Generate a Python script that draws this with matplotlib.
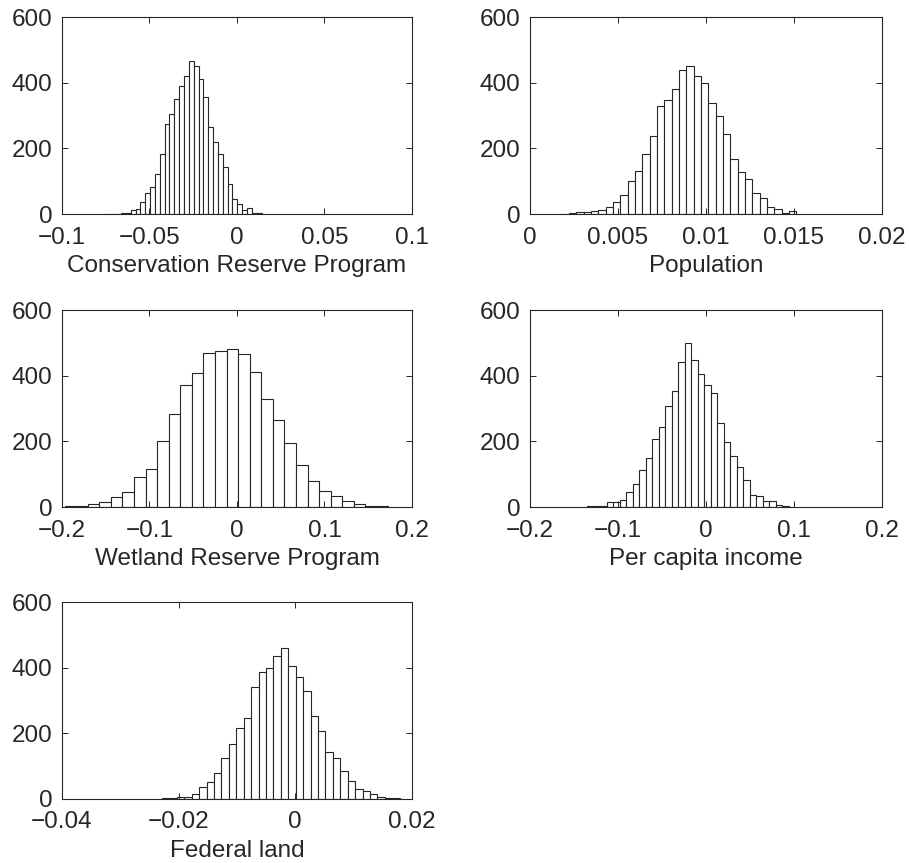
import numpy as np
import matplotlib
matplotlib.use("Agg")
import matplotlib.pyplot as plt
from matplotlib.ticker import FuncFormatter

plt.rcParams['font.family'] = ['Liberation Sans', 'DejaVu Sans']

# bin counts (first bin left edge, bin width, counts)
crp_start, crp_width = -0.0746, 0.00277
crp_counts = [1, 1, 1, 2, 3, 11, 16, 37, 64, 82, 122, 183, 273, 305, 352, 389,
              421, 468, 451, 412, 356, 266, 221, 183, 142, 93, 47, 30, 11, 17, 4, 2]

pop_start, pop_width = 0.0018, 0.000417
pop_counts = [1, 2, 5, 7, 9, 13, 21, 38, 58, 100, 130, 182, 237, 329, 347, 380,
              438, 451, 421, 400, 338, 299, 245, 168, 127, 108, 65, 48, 21, 14, 4, 8]

wrp_start, wrp_width = -0.197, 0.01322
wrp_counts = [2, 4, 10, 15, 31, 47, 92, 116, 200, 284, 372, 410, 469, 476,
              482, 466, 412, 330, 266, 196, 128, 79, 49, 34, 18, 9, 4, 3]

inc_start, inc_width = -0.135, 0.0074
inc_counts = [3, 4, 2, 14, 16, 21, 47, 70, 113, 149, 207, 245, 308, 354, 442, 500,
              448, 406, 371, 348, 255, 199, 155, 121, 81, 37, 33, 18, 19, 5, 3, 1]

fed_start, fed_width = -0.02286, 0.001274
fed_counts = [2, 4, 5, 7, 16, 36, 51, 80, 124, 168, 216, 248, 340, 387, 398, 436,
              461, 404, 372, 330, 252, 208, 142, 125, 86, 54, 30, 23, 14, 5, 4, 2]

panels = [
    ("Conservation Reserve Program", crp_start, crp_width, crp_counts, [-0.1, -0.05, 0, 0.05, 0.1]),
    ("Population", pop_start, pop_width, pop_counts, [0, 0.005, 0.01, 0.015, 0.02]),
    ("Wetland Reserve Program", wrp_start, wrp_width, wrp_counts, [-0.2, -0.1, 0, 0.1, 0.2]),
    ("Per capita income", inc_start, inc_width, inc_counts, [-0.2, -0.1, 0, 0.1, 0.2]),
    ("Federal land", fed_start, fed_width, fed_counts, [-0.04, -0.02, 0, 0.02]),
]
y_ticks = [0, 200, 400, 600]

positions = [
    [0.0682, 0.752, 0.385, 0.228],
    [0.583, 0.752, 0.387, 0.228],
    [0.0682, 0.4125, 0.385, 0.228],
    [0.583, 0.4125, 0.387, 0.228],
    [0.0682, 0.0742, 0.385, 0.228],
]

fmt = FuncFormatter(lambda v, p: ('%g' % v).replace('-', '\u2212'))
edge = '#262626'
fs = 17.5

fig = plt.figure(figsize=(9.09, 8.63), dpi=100)
for (label, start, width, counts, xt), pos in zip(panels, positions):
    ax = fig.add_axes(pos)
    lefts = start + width * np.arange(len(counts))
    ax.bar(lefts, counts, width=width, align='edge', facecolor='white',
           edgecolor=edge, linewidth=0.8)
    ax.set_xlim(xt[0], xt[-1])
    ax.set_ylim(0, 600)
    ax.set_xticks(xt)
    ax.set_yticks(y_ticks)
    ax.xaxis.set_major_formatter(fmt)
    ax.tick_params(direction='in', top=True, right=True, labelsize=fs,
                   length=4, width=0.7, color=edge, labelcolor=edge)
    ax.tick_params(axis='x', pad=9)
    ax.tick_params(axis='y', pad=7)
    for s in ax.spines.values():
        s.set_color(edge)
        s.set_linewidth(0.8)
    ax.set_xlabel(label, fontsize=fs, labelpad=5, color=edge)

fig.savefig("out.png", dpi=100)
